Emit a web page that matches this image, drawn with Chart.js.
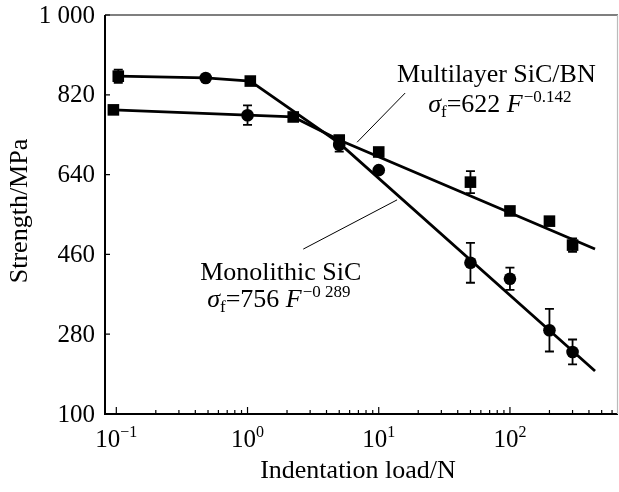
<!DOCTYPE html>
<html>
<head>
<meta charset="utf-8">
<script src="https://cdn.jsdelivr.net/npm/chart.js@4.4.1/dist/chart.umd.min.js"></script>
<style>
  html, body { margin: 0; padding: 0; background: #fff; }
  canvas { display: block; }
</style>
</head>
<body>
<canvas id="chart" width="619" height="492"></canvas>
<script>
// ================== DATA ==================
// upper curve (steep fit) - Monolithic SiC
const monoLoads    = [0.1035, 0.48, 1.05, 5, 10, 50, 100, 200, 300];
const monoStrength = [862, 858, 851, 707, 650, 441, 405, 289, 240];
const monoErr      = [15, 0, 0, 15, 0, 45, 25, 48, 28];
const monoMarker   = ['rect', 'circle', 'rect', 'circle', 'circle', 'circle', 'circle', 'circle', 'circle'];

// lower curve (shallow fit) - Multilayer SiC/BN
const multiLoads    = [0.095, 1.0, 2.23, 5, 10, 50, 100, 200, 300];
const multiStrength = [786, 774, 770, 718, 691, 623, 558, 535, 481];
const multiErr      = [0, 22, 0, 0, 0, 25, 0, 0, 15];
const multiMarker   = ['rect', 'circle', 'rect', 'rect', 'rect', 'rect', 'rect', 'rect', 'rect'];

// drawn lines (plateau + fitted power law)
const monoLineLoads     = [0.1035, 0.48, 1.05, 5, 445];
const monoLineStrength  = [862, 858, 851, 711, 197];
const multiLineLoads    = [0.095, 1.0, 2.23, 5, 445];
const multiLineStrength = [786, 774, 770, 718, 472];

// axes
const yTicks      = [100, 280, 460, 640, 820, 1000];
const yTickLabels = ['100', '280', '460', '640', '820', '1 000'];
const xTicks      = [0.1, 1, 10, 100];
const xTickExps   = ['\u22121', '0', '1', '2'];

// ================== HELPERS ==================
const SERIF = '"Liberation Serif", "Times New Roman", serif';
const AREA = { left: 105, top: 15, right: 618, bottom: 414 };

function toPoints(xs, ys){
  return xs.map((x, i) => ({ x, y: ys[i] }));
}

function drawRich(ctx, x, y, parts){
  let cx = x;
  parts.forEach(p => {
    ctx.font = (p.italic ? 'italic ' : '') + p.size + 'px ' + SERIF;
    ctx.fillText(p.t, cx, y + (p.dy || 0));
    cx += ctx.measureText(p.t).width + (p.gap || 0);
  });
}

// ================== PLUGINS ==================
const errorBars = {
  id: 'errorBars',
  afterDatasetsDraw(chart){
    const ctx = chart.ctx;
    const xs = chart.scales.x, ys = chart.scales.y;
    ctx.save();
    ctx.strokeStyle = '#000';
    ctx.lineWidth = 1.8;
    chart.data.datasets.forEach(ds => {
      if(!ds.err) return;
      ds.data.forEach((p, i) => {
        const e = ds.err[i];
        if(!e) return;
        const px = xs.getPixelForValue(p.x);
        const top = ys.getPixelForValue(p.y + e);
        const bot = ys.getPixelForValue(p.y - e);
        ctx.beginPath();
        ctx.moveTo(px, top); ctx.lineTo(px, bot);
        ctx.moveTo(px - 4.5, top); ctx.lineTo(px + 4.5, top);
        ctx.moveTo(px - 4.5, bot); ctx.lineTo(px + 4.5, bot);
        ctx.stroke();
      });
    });
    ctx.restore();
  }
};

const frameAndLabels = {
  id: 'frameAndLabels',
  afterDraw(chart){
    const ctx = chart.ctx;
    const a = chart.chartArea;
    const xs = chart.scales.x, ys = chart.scales.y;
    ctx.save();
    ctx.strokeStyle = '#000';
    ctx.fillStyle = '#000';

    // frame
    ctx.lineWidth = 2;
    ctx.beginPath();
    ctx.moveTo(a.left, a.top); ctx.lineTo(a.left, a.bottom); ctx.lineTo(a.right, a.bottom);
    ctx.stroke();
    ctx.lineWidth = 1.2;
    ctx.beginPath();
    ctx.moveTo(a.left, a.top); ctx.lineTo(a.right, a.top);
    ctx.stroke();
    ctx.strokeStyle = '#bbb';
    ctx.beginPath();
    ctx.moveTo(a.right - 0.5, a.top); ctx.lineTo(a.right - 0.5, a.bottom);
    ctx.stroke();
    ctx.strokeStyle = '#000';

    // x ticks (inward), major + minor
    ctx.lineWidth = 1.2;
    ctx.beginPath();
    for(let d = -1; d <= 2; d++){
      for(let m = 1; m <= 9; m++){
        const v = m * Math.pow(10, d);
        if(v > xs.max) continue;
        const px = xs.getPixelForValue(v);
        const len = m === 1 ? 7 : 4;
        ctx.moveTo(px, a.bottom); ctx.lineTo(px, a.bottom - len);
      }
    }
    // y ticks
    yTicks.forEach(v => {
      const py = ys.getPixelForValue(v);
      ctx.moveTo(a.left, py); ctx.lineTo(a.left + 5, py);
    });
    ctx.stroke();

    // y tick labels
    ctx.font = '25px ' + SERIF;
    ctx.textAlign = 'right';
    ctx.textBaseline = 'middle';
    yTicks.forEach((v, i) => {
      ctx.fillText(yTickLabels[i], a.left - 10, ys.getPixelForValue(v) + 1);
    });
    ctx.textAlign = 'left';

    // x tick labels 10^n
    ctx.textBaseline = 'alphabetic';
    xTicks.forEach((v, i) => {
      const px = xs.getPixelForValue(v);
      ctx.font = '25px ' + SERIF;
      const w1 = ctx.measureText('10').width;
      ctx.font = '16px ' + SERIF;
      const w2 = ctx.measureText(xTickExps[i]).width;
      const x0 = px - (w1 + w2) / 2;
      drawRich(ctx, x0, 447, [
        { t: '10', size: 25 },
        { t: xTickExps[i], size: 16, dy: -10 }
      ]);
    });

    // axis titles
    ctx.font = '26px ' + SERIF;
    ctx.textAlign = 'center';
    ctx.fillText('Indentation load/N', 358, 478);
    ctx.save();
    ctx.translate(27, 211);
    ctx.rotate(-Math.PI / 2);
    ctx.fillText('Strength/MPa', 0, 0);
    ctx.restore();
    ctx.textAlign = 'left';

    // annotation pointer lines (data coordinates)
    ctx.lineWidth = 1;
    const pointers = [
      [[15.9, 824], [6.84, 713]],
      [[2.66, 472], [13.8, 583]]
    ];
    ctx.beginPath();
    pointers.forEach(([p, q]) => {
      ctx.moveTo(xs.getPixelForValue(p[0]), ys.getPixelForValue(p[1]));
      ctx.lineTo(xs.getPixelForValue(q[0]), ys.getPixelForValue(q[1]));
    });
    ctx.stroke();

    // annotation texts
    const tx = v => xs.getPixelForValue(v);
    const ty = v => ys.getPixelForValue(v);
    drawRich(ctx, tx(13.8), ty(849), [{ t: 'Multilayer SiC/BN', size: 26 }]);
    drawRich(ctx, tx(23.8), ty(781), [
      { t: '\u03c3', size: 26, italic: true },
      { t: 'f', size: 17, dy: 5 },
      { t: '=622 ', size: 26 },
      { t: 'F', size: 26, italic: true, gap: 1 },
      { t: '\u22120.142', size: 17, dy: -10 }
    ]);
    drawRich(ctx, tx(0.436), ty(402), [{ t: 'Monolithic SiC', size: 26 }]);
    drawRich(ctx, tx(0.493), ty(341), [
      { t: '\u03c3', size: 26, italic: true },
      { t: 'f', size: 17, dy: 5 },
      { t: '=756 ', size: 26 },
      { t: 'F', size: 26, italic: true, gap: 1 },
      { t: '\u22120 289', size: 17, dy: -10 }
    ]);
    ctx.restore();
  }
};

// ================== CHART ==================
const ctx = document.getElementById('chart').getContext('2d');
const pad = { top: AREA.top, right: 619 - AREA.right, left: 0, bottom: 0 };
let xAxisHeight = 492 - AREA.bottom;

const chart = new Chart(ctx, {
  type: 'scatter',
  data: {
    datasets: [
      {
        type: 'line',
        label: 'Monolithic SiC fit',
        data: toPoints(monoLineLoads, monoLineStrength),
        borderColor: '#000', borderWidth: 2.8,
        pointRadius: 0, tension: 0, fill: false
      },
      {
        type: 'line',
        label: 'Multilayer SiC/BN fit',
        data: toPoints(multiLineLoads, multiLineStrength),
        borderColor: '#000', borderWidth: 2.8,
        pointRadius: 0, tension: 0, fill: false
      },
      {
        label: 'Monolithic SiC',
        data: toPoints(monoLoads, monoStrength),
        err: monoErr,
        pointStyle: monoMarker,
        pointRadius: monoMarker.map(m => m === 'rect' ? 8.2 : 6.3),
        backgroundColor: '#000', borderColor: '#000', borderWidth: 0
      },
      {
        label: 'Multilayer SiC/BN',
        data: toPoints(multiLoads, multiStrength),
        err: multiErr,
        pointStyle: multiMarker,
        pointRadius: multiMarker.map(m => m === 'rect' ? 8.2 : 6.3),
        backgroundColor: '#000', borderColor: '#000', borderWidth: 0
      }
    ]
  },
  options: {
    responsive: false,
    animation: false,
    layout: { padding: pad, autoPadding: false },
    plugins: { legend: { display: false }, tooltip: { enabled: false } },
    scales: {
      x: {
        type: 'logarithmic',
        min: 0.082, max: 666,
        grid: { display: false },
        border: { display: false },
        ticks: { display: false },
        afterFit(scale){ scale.height = xAxisHeight; }
      },
      y: {
        type: 'linear',
        min: 100, max: 1000,
        grid: { display: false },
        border: { display: false },
        ticks: { display: false },
        afterFit(scale){ scale.width = AREA.left; }
      }
    }
  },
  plugins: [errorBars, frameAndLabels]
});

// nudge the layout so the plot area lands where the reference has it
const ca = chart.chartArea;
pad.top += AREA.top - ca.top;
pad.right += ca.right - AREA.right;
xAxisHeight += ca.bottom - AREA.bottom;
chart.options.layout.padding = pad;
chart.update();
</script>
</body>
</html>
